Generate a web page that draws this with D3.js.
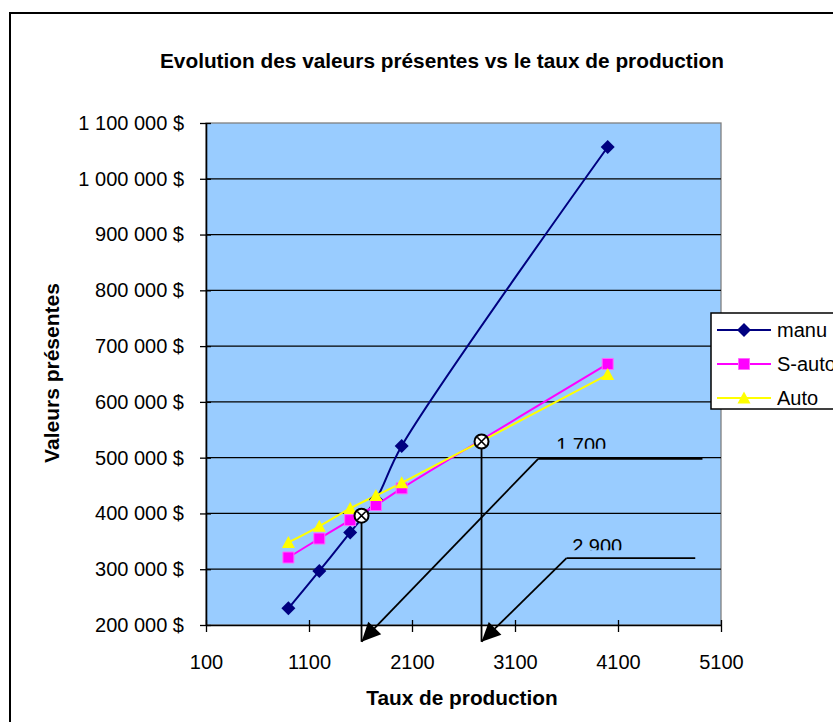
<!DOCTYPE html>
<html>
<head>
<meta charset="utf-8">
<script src="https://cdn.jsdelivr.net/npm/d3@7"></script>
<style>
  body { margin: 0; background: #fff; }
  svg { display: block; font-family: "Liberation Sans", Arial, sans-serif; }
</style>
</head>
<body>
<svg id="chart"></svg>
<script>
// ---- data ----
const rates  = [900, 1200, 1500, 1750, 2000, 4000];
const manu   = [230000, 297000, 366000, 425000, 521000, 1057000];
const sAuto  = [321000, 355000, 388000, 415000, 445000, 668000];
const auto   = [348000, 377000, 409000, 432000, 455000, 649000];
const seriesNames = ["manu", "S-auto", "Auto"];

const xTicks = [100, 1100, 2100, 3100, 4100, 5100];
const yTicks = [200000, 300000, 400000, 500000, 600000, 700000, 800000, 900000, 1000000, 1100000];

// intersection markers and their callouts
const crossRates  = [1610, 2775];
const crossValues = [396000, 529000];
const crossLabels = ["1 700", "2 900"];
const calloutElbowX = [3325, 3600];
const calloutEndX   = [4920, 4850];
const calloutY      = [498000, 320000];
const labelX        = [3500, 3655];
const labelBaseline = [511000, 329500];
const labelClip     = [516000, 334000];
const arrowBottom   = 170000;

// ---- layout ----
const W = 833, H = 722;
const plot = { left: 206, top: 123, right: 721, bottom: 625 };
const colors = { "manu": "#000080", "S-auto": "#FF00FF", "Auto": "#FFFF00" };

const svg = d3.select("#chart").attr("width", W).attr("height", H);

// outer chart frame (runs off the right and bottom of the picture)
svg.append("rect")
  .attr("x", 10).attr("y", 13)
  .attr("width", 1000).attr("height", 1000)
  .attr("fill", "#fff").attr("stroke", "#000").attr("stroke-width", 2);

const x = d3.scaleLinear().domain([100, 5100]).range([plot.left, plot.right]);
const y = d3.scaleLinear().domain([200000, 1100000]).range([plot.bottom, plot.top]);

// plot area
svg.append("rect")
  .attr("x", plot.left).attr("y", plot.top)
  .attr("width", plot.right - plot.left).attr("height", plot.bottom - plot.top)
  .attr("fill", "#99CCFF").attr("stroke", "#808080").attr("stroke-width", 1.3);

// gridlines
svg.append("g").selectAll("line")
  .data(yTicks.slice(1, -1))
  .join("line")
  .attr("x1", plot.left).attr("x2", plot.right)
  .attr("y1", d => y(d)).attr("y2", d => y(d))
  .attr("stroke", "#000").attr("stroke-width", 1.3);

// axes
const fmtY = v => d3.format(",")(v).replace(/,/g, " ") + " $";

const yAxisG = svg.append("g")
  .attr("transform", `translate(${plot.left},0)`)
  .call(d3.axisLeft(y).tickValues(yTicks).tickFormat(fmtY)
    .tickSizeInner(6).tickSizeOuter(0).tickPadding(16));
yAxisG.selectAll(".tick line").attr("x1", 5).attr("stroke-width", 1.3);
yAxisG.select(".domain").attr("stroke-width", 1.6);
yAxisG.selectAll("text").attr("font-size", 20).attr("fill", "#000")
  .attr("font-family", "Liberation Sans, Arial, sans-serif");

const xAxisG = svg.append("g")
  .attr("transform", `translate(0,${plot.bottom})`)
  .call(d3.axisBottom(x).tickValues(xTicks).tickFormat(d3.format("d"))
    .tickSizeInner(7).tickSizeOuter(0).tickPadding(23));
xAxisG.selectAll(".tick line").attr("y1", -5).attr("stroke-width", 1.3);
xAxisG.select(".domain").attr("stroke-width", 1.6);
xAxisG.selectAll("text").attr("font-size", 20).attr("fill", "#000")
  .attr("font-family", "Liberation Sans, Arial, sans-serif");

// titles
svg.append("text")
  .attr("x", 442).attr("y", 68)
  .attr("text-anchor", "middle")
  .attr("font-size", 20.8).attr("font-weight", "bold")
  .text("Evolution des valeurs présentes vs le taux de production");

svg.append("text")
  .attr("x", 462).attr("y", 705)
  .attr("text-anchor", "middle")
  .attr("font-size", 20.8).attr("font-weight", "bold")
  .text("Taux de production");

svg.append("text")
  .attr("transform", `translate(59,${(plot.top + plot.bottom) / 2 - 1}) rotate(-90)`)
  .attr("text-anchor", "middle")
  .attr("font-size", 21).attr("font-weight", "bold")
  .text("Valeurs présentes");

// series
const series = [
  { name: "manu", values: manu, shape: "diamond" },
  { name: "S-auto", values: sAuto, shape: "square" },
  { name: "Auto", values: auto, shape: "triangle" }
];

const markerPath = {
  diamond: "M0,-7L7,0L0,7L-7,0Z",
  square: "M-5.5,-5.5H5.5V5.5H-5.5Z",
  triangle: "M0,-6.5L6.5,5.5H-6.5Z"
};

const line = d3.line()
  .x(d => x(d[0]))
  .y(d => y(d[1]))
  .curve(d3.curveCatmullRom.alpha(0.5));

const seriesG = svg.append("g");
series.forEach(s => {
  const pts = rates.map((r, i) => [r, s.values[i]]);
  seriesG.append("path")
    .datum(pts)
    .attr("d", line)
    .attr("fill", "none")
    .attr("stroke", colors[s.name])
    .attr("stroke-width", 2);
});
series.forEach(s => {
  const pts = rates.map((r, i) => [r, s.values[i]]);
  seriesG.append("g").selectAll("path")
    .data(pts)
    .join("path")
    .attr("transform", d => `translate(${x(d[0])},${y(d[1])})`)
    .attr("d", markerPath[s.shape])
    .attr("fill", colors[s.name])
    .attr("stroke", s.shape === "square" ? "#FF66FF" : "none")
    .attr("stroke-width", 1);
});

// arrowhead helper: filled triangle with its tip on (x2,y2)
function arrow(g, x1, y1, x2, y2) {
  g.append("line")
    .attr("x1", x1).attr("y1", y1).attr("x2", x2).attr("y2", y2)
    .attr("stroke", "#000").attr("stroke-width", 1.8);
  const a = Math.atan2(y2 - y1, x2 - x1);
  const len = 19, half = 9;
  const bx = x2 - len * Math.cos(a), by = y2 - len * Math.sin(a);
  const px = -Math.sin(a) * half, py = Math.cos(a) * half;
  g.append("path")
    .attr("d", `M${x2},${y2}L${bx + px},${by + py}L${bx - px},${by - py}Z`)
    .attr("fill", "#000");
}

// intersection markers, drop lines and callouts
const annG = svg.append("g");
const defs = svg.append("defs");

crossRates.forEach((r, i) => {
  const cx = x(r), cy = y(crossValues[i]);

  // drop line to below the axis
  annG.append("line")
    .attr("x1", cx).attr("y1", cy).attr("x2", cx).attr("y2", y(arrowBottom))
    .attr("stroke", "#000").attr("stroke-width", 1.8);

  // callout: horizontal leader then diagonal arrow to the drop line foot
  annG.append("line")
    .attr("x1", x(calloutElbowX[i])).attr("y1", y(calloutY[i]))
    .attr("x2", x(calloutEndX[i])).attr("y2", y(calloutY[i]))
    .attr("stroke", "#000").attr("stroke-width", 1.8);
  arrow(annG, x(calloutElbowX[i]), y(calloutY[i]), cx, y(arrowBottom));

  // label, cut off at the bottom like the text box in the original
  defs.append("clipPath").attr("id", "lab" + i)
    .append("rect")
    .attr("x", x(labelX[i]) - 5).attr("y", y(labelBaseline[i]) - 30)
    .attr("width", 80).attr("height", y(labelClip[i]) - y(labelBaseline[i]) + 30);
  annG.append("text")
    .attr("clip-path", `url(#lab${i})`)
    .attr("x", x(labelX[i])).attr("y", y(labelBaseline[i]))
    .attr("font-size", 20)
    .text(crossLabels[i]);

  // circled cross
  const m = annG.append("g").attr("transform", `translate(${cx},${cy})`);
  m.append("circle").attr("r", 7).attr("fill", "#fff")
    .attr("stroke", "#000").attr("stroke-width", 2);
  m.append("path").attr("d", "M-4.2,-4.2L4.2,4.2M-4.2,4.2L4.2,-4.2")
    .attr("stroke", "#000").attr("stroke-width", 1.6);
});

// legend
const legend = svg.append("g").attr("transform", "translate(711,313)");
legend.append("rect")
  .attr("width", 200).attr("height", 96)
  .attr("fill", "#fff").attr("stroke", "#000").attr("stroke-width", 1.5);

series.forEach((s, i) => {
  const ly = 17 + i * 34;
  legend.append("line")
    .attr("x1", 6).attr("x2", 60).attr("y1", ly).attr("y2", ly)
    .attr("stroke", colors[s.name]).attr("stroke-width", 2);
  legend.append("path")
    .attr("transform", `translate(33,${ly})`)
    .attr("d", markerPath[s.shape])
    .attr("fill", colors[s.name])
    .attr("stroke", s.shape === "square" ? "#FF66FF" : "none");
  legend.append("text")
    .attr("x", 66).attr("y", ly).attr("dy", "0.35em")
    .attr("font-size", 20)
    .text(s.name);
});
</script>
</body>
</html>
